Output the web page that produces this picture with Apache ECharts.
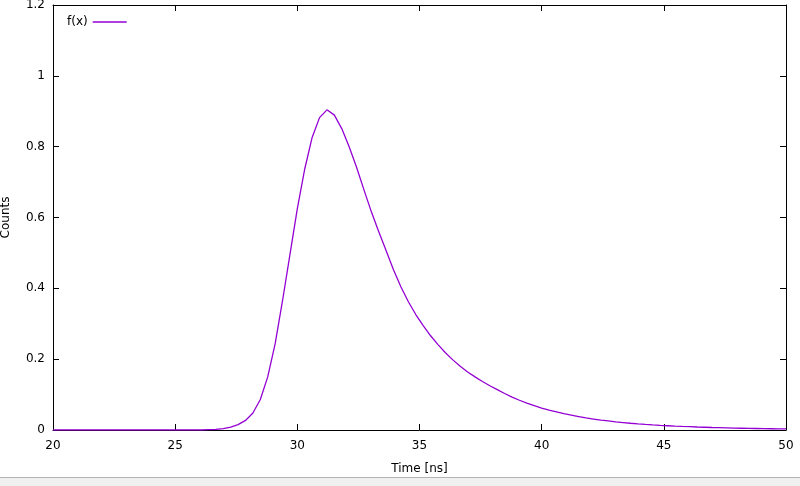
<!DOCTYPE html>
<html>
<head>
<meta charset="utf-8">
<script src="https://cdn.jsdelivr.net/npm/echarts@6/dist/echarts.min.js"></script>
<style>html,body{margin:0;padding:0;background:#fff}#c{width:800px;height:486px}</style>
</head>
<body>
<div id="c"></div>
<script>
// Sample times (ns) of the plotted function
var times = [
20.000,20.303,20.606,20.909,21.212,21.515,21.818,22.121,22.424,22.727,
23.030,23.333,23.636,23.939,24.242,24.545,24.848,25.152,25.455,25.758,
26.061,26.364,26.667,26.970,27.273,27.576,27.879,28.182,28.485,28.788,
29.091,29.394,29.697,30.000,30.303,30.606,30.909,31.212,31.515,31.818,
32.121,32.424,32.727,33.030,33.333,33.636,33.939,34.242,34.545,34.848,
35.152,35.455,35.758,36.061,36.364,36.667,36.970,37.273,37.576,37.879,
38.182,38.485,38.788,39.091,39.394,39.697,40.000,40.303,40.606,40.909,
41.212,41.515,41.818,42.121,42.424,42.727,43.030,43.333,43.636,43.939,
44.242,44.545,44.848,45.152,45.455,45.758,46.061,46.364,46.667,46.970,
47.273,47.576,47.879,48.182,48.485,48.788,49.091,49.394,49.697,50.000
];
// f(x) values
var counts = [
0,0,0,0,0,0,0,0,0,0,
0,0,0,0,0,0,0,0,0,0,
0,0.001,0.0015,0.0037,0.008,0.015,0.027,0.048,0.086,0.150,
0.243,0.365,0.495,0.625,0.737,0.826,0.882,0.904,0.889,0.851,
0.800,0.742,0.678,0.616,0.560,0.506,0.452,0.404,0.362,0.326,
0.295,0.266,0.241,0.218,0.198,0.180,0.164,0.150,0.137,0.125,
0.114,0.103,0.093,0.084,0.076,0.069,0.062,0.056,0.051,0.046,
0.042,0.038,0.034,0.031,0.028,0.0255,0.023,0.021,0.019,0.0173,
0.0158,0.0144,0.0131,0.0120,0.0110,0.0101,0.0093,0.0085,0.0078,0.0071,
0.0065,0.0059,0.0054,0.0050,0.0046,0.0042,0.0038,0.0035,0.0032,0.0029
];
var seriesName = 'f(x)';
var xTitle = 'Time [ns]';
var yTitle = 'Counts';

var data = times.map(function(t, i){ return [t, counts[i]]; });
var font = 'DejaVu Sans';
var axisLine = {show:true, onZero:false, lineStyle:{color:'#000', width:1}};
var tick = {show:true, inside:true, length:6, lineStyle:{color:'#000', width:1}};

var chart = echarts.init(document.getElementById('c'), null, {renderer:'canvas'});
chart.setOption({
  animation:false,
  backgroundColor:'#fff',
  grid:{left:53, right:14, top:5, bottom:56, containLabel:false, outerBoundsMode:'none'},
  legend:{
    data:[{name:seriesName, icon:'rect'}], left:62, top:11, align:'right',
    itemWidth:34, itemHeight:1.4, itemGap:0,
    itemStyle:{color:'#9400D3', borderWidth:0},
    textStyle:{fontFamily:font, fontSize:12, color:'#000', padding:0}
  },
  xAxis:[{
    type:'value', min:20, max:50, interval:5, position:'bottom',
    name:xTitle, nameLocation:'middle', nameGap:33,
    nameTextStyle:{fontFamily:font, fontSize:12, color:'#000'},
    axisLine:axisLine, axisTick:tick,
    axisLabel:{fontFamily:font, fontSize:12, color:'#000', margin:10},
    splitLine:{show:false}
  },{
    type:'value', min:20, max:50, interval:5, position:'top',
    axisLine:axisLine, axisTick:tick, axisLabel:{show:false}, splitLine:{show:false}
  }],
  yAxis:[{
    type:'value', min:0, max:1.2, interval:0.2, position:'left',
    name:yTitle, nameLocation:'middle', nameGap:41, nameRotate:90,
    nameTextStyle:{fontFamily:font, fontSize:12, color:'#000'},
    axisLine:axisLine, axisTick:tick,
    axisLabel:{fontFamily:font, fontSize:12, color:'#000', margin:8,
      formatter:function(v){ return String(Math.round(v*10)/10); }},
    splitLine:{show:false}
  },{
    type:'value', min:0, max:1.2, interval:0.2, position:'right',
    axisLine:axisLine, axisTick:tick, axisLabel:{show:false}, splitLine:{show:false}
  }],
  series:[{
    name:seriesName, type:'line', data:data, xAxisIndex:0, yAxisIndex:0,
    symbol:'none', smooth:false,
    lineStyle:{color:'#9400D3', width:1.3},
    itemStyle:{color:'#9400D3'}
  }],
  graphic:[{
    type:'rect', left:0, top:478, shape:{width:800, height:8},
    style:{fill:'#f0f0f0', stroke:null}, z:100
  },{
    type:'rect', left:0, top:477, shape:{width:800, height:1},
    style:{fill:'#b4b4b4', stroke:null}, z:101
  }]
});
</script>
</body>
</html>
